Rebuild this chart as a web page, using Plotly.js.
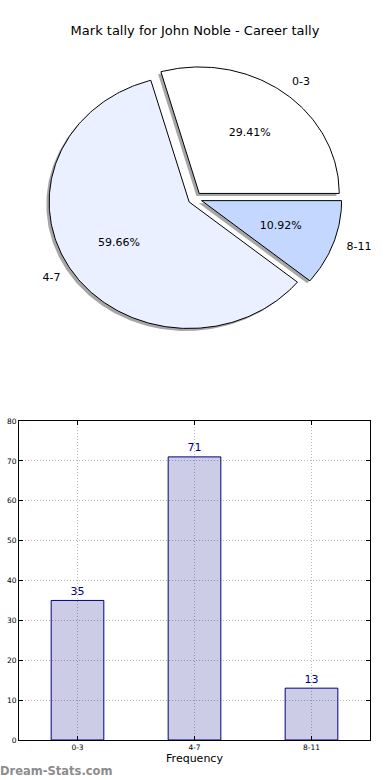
<!DOCTYPE html>
<html>
<head>
<meta charset="utf-8">
<script src="https://cdn.plot.ly/plotly-3.0.1.min.js"></script>
<style>html,body{margin:0;padding:0;background:#fff;}#chart{width:390px;height:780px;}</style>
</head>
<body>
<div id="chart"></div>
<script>
// ---- data ----
const categories = ['0-3', '4-7', '8-11'];
const counts = [35, 71, 13];
const pieColors = ['#ffffff', '#eaf0ff', '#c4d8ff'];
const yTicks = [0, 10, 20, 30, 40, 50, 60, 70, 80];
const chartTitle = 'Mark tally for John Noble - Career tally';
const xLabel = 'Frequency';
const watermark = 'Dream-Stats.com';

// ---- pie geometry (matplotlib-style, unit radius in data coords) ----
const explode = 0.05, shadowOff = 0.02, labelDist = 1.1, pctDist = 0.6;
const total = counts.reduce((a, b) => a + b, 0);
const FONT = 'DejaVu Sans, sans-serif';

const traces = [];
const wedges = [];
let start = 0;
counts.forEach((v, i) => {
  const frac = v / total;
  const t1 = start, t2 = start + frac * 360;
  const mid = (t1 + t2) / 2 * Math.PI / 180;
  const cx = explode * Math.cos(mid), cy = explode * Math.sin(mid);
  const xs = [cx], ys = [cy];
  const n = Math.max(4, Math.ceil(t2 - t1));
  for (let k = 0; k <= n; k++) {
    const a = (t1 + (t2 - t1) * k / n) * Math.PI / 180;
    xs.push(cx + Math.cos(a)); ys.push(cy + Math.sin(a));
  }
  xs.push(cx); ys.push(cy);
  wedges.push({xs, ys, mid, cx, cy, frac, i});
  start = t2;
});

// shadows
wedges.forEach(w => {
  traces.push({
    type: 'scatter', mode: 'lines', xaxis: 'x2', yaxis: 'y2',
    x: w.xs.map(x => x - shadowOff), y: w.ys.map(y => y - shadowOff),
    fill: 'toself', fillcolor: 'rgba(77,77,77,0.5)',
    line: {width: 0, color: 'rgba(0,0,0,0)'}, hoverinfo: 'skip', showlegend: false
  });
});
// wedges
wedges.forEach(w => {
  traces.push({
    type: 'scatter', mode: 'lines', xaxis: 'x2', yaxis: 'y2',
    x: w.xs, y: w.ys, fill: 'toself', fillcolor: pieColors[w.i],
    line: {width: 1, color: '#000'}, name: categories[w.i], showlegend: false
  });
});
// percent labels
traces.push({
  type: 'scatter', mode: 'text', xaxis: 'x2', yaxis: 'y2',
  x: wedges.map(w => w.cx + pctDist * Math.cos(w.mid)),
  y: wedges.map(w => w.cy + pctDist * Math.sin(w.mid)),
  text: wedges.map(w => (w.frac * 100).toFixed(2) + '%'),
  textposition: 'middle center',
  textfont: {family: FONT, size: 11, color: '#000'},
  hoverinfo: 'skip', showlegend: false
});
// category labels
traces.push({
  type: 'scatter', mode: 'text', xaxis: 'x2', yaxis: 'y2',
  x: wedges.map(w => w.cx + labelDist * Math.cos(w.mid)),
  y: wedges.map(w => w.cy + labelDist * Math.sin(w.mid)),
  text: wedges.map(w => categories[w.i]),
  textposition: wedges.map(w => Math.cos(w.mid) > 0 ? 'middle right' : 'middle left'),
  textfont: {family: FONT, size: 11, color: '#000'},
  hoverinfo: 'skip', showlegend: false
});

// ---- bar chart ----
traces.push({
  type: 'bar', x: categories, y: counts, width: 0.45,
  marker: {color: 'rgba(0,0,128,0.2)', line: {color: '#000080', width: 1}},
  showlegend: false
});
// value labels above bars (invisible marker gives a small gap)
traces.push({
  type: 'scatter', mode: 'markers+text', x: categories, y: counts,
  marker: {size: 3, color: 'rgba(0,0,0,0)', line: {width: 0}},
  text: counts.map(String), textposition: 'top center', cliponaxis: false,
  textfont: {family: FONT, size: 11, color: '#000080'},
  hoverinfo: 'skip', showlegend: false
});

// pixel layout helpers
const W = 390, H = 780;
const pieCx = 195, pieCy = 198.5, rx = 140, ry = 126.5;
const pieTop = 50, pieBot = 360;

const gridStyle = {showgrid: true, gridcolor: '#b8b8b8', griddash: '1px,2px', gridwidth: 1};

const layout = {
  width: W, height: H,
  margin: {l: 0, r: 0, t: 0, b: 0},
  paper_bgcolor: '#fff', plot_bgcolor: '#fff',
  font: {family: FONT, color: '#000'},
  showlegend: false,
  title: {text: chartTitle, font: {family: FONT, size: 13, color: '#000'},
          x: 0.5, xanchor: 'center', y: 1 - 30 / H, yanchor: 'middle'},
  xaxis: Object.assign({
    domain: [19 / W, 370 / W], anchor: 'y', type: 'category', range: [-0.5, 2.5],
    showline: true, linecolor: '#000', linewidth: 1, mirror: 'allticks',
    ticks: 'inside', ticklen: 4, tickcolor: '#000',
    zeroline: false, tickfont: {family: FONT, size: 7.5, color: '#000'},
    title: {text: xLabel, font: {family: FONT, size: 11, color: '#000'}, standoff: 3}
  }, gridStyle),
  yaxis: Object.assign({
    domain: [1 - 740 / H, 1 - 421 / H], anchor: 'x', range: [0, 80],
    tickvals: yTicks, ticktext: yTicks.map(String),
    showline: true, linecolor: '#000', linewidth: 1, mirror: 'allticks',
    ticks: 'inside', ticklen: 4, tickcolor: '#000',
    zeroline: false, tickfont: {family: FONT, size: 7.5, color: '#000'}
  }, gridStyle),
  xaxis2: {
    domain: [0, 1], anchor: 'y2',
    range: [(0 - pieCx) / rx, (W - pieCx) / rx],
    visible: false, fixedrange: true
  },
  yaxis2: {
    domain: [1 - pieBot / H, 1 - pieTop / H], anchor: 'x2',
    range: [(pieCy - pieBot) / ry, (pieCy - pieTop) / ry],
    visible: false, fixedrange: true
  },
  annotations: [{
    text: watermark, xref: 'paper', yref: 'paper', x: 0, y: 1 - 771 / H,
    xanchor: 'left', yanchor: 'middle', showarrow: false, xshift: -2,
    font: {family: FONT, size: 11.5, color: '#8c8c8c', weight: 600}
  }]
};

Plotly.newPlot('chart', traces, layout, {displayModeBar: false, staticPlot: true});
</script>
</body>
</html>
